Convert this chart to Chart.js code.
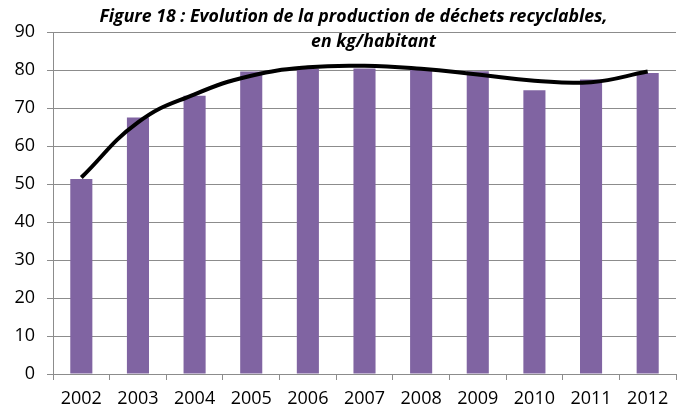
<!DOCTYPE html>
<html>
<head>
<meta charset="utf-8">
<script src="https://cdn.jsdelivr.net/npm/chart.js@4"></script>
<style>
  html, body { margin: 0; padding: 0; background: #fff; }
  #wrap { position: relative; width: 677px; height: 409px; }
  #titre {
    position: absolute; left: 30px; right: 0; top: 3px;
    text-align: center; font-family: "Open Sans", sans-serif;
    font-weight: bold; font-style: italic; font-size: 17.7px; line-height: 25px;
    color: #000; white-space: nowrap;
  }
  #titre span { position: relative; left: 20px; }
</style>
</head>
<body>
<div id="wrap">
  <canvas id="graph" width="677" height="409"></canvas>
  <div id="titre">Figure 18 : Evolution de la production de déchets recyclables,<br><span>en kg/habitant</span></div>
</div>
<script>
// Années et valeurs (kg/habitant)
const annees = ["2002", "2003", "2004", "2005", "2006", "2007", "2008", "2009", "2010", "2011", "2012"];
const dechets = [51.3, 67.5, 73.2, 79.6, 80.3, 80.4, 80, 79.7, 74.7, 77.5, 79.2];
// Courbe de tendance (polynomiale)
const tendance = [51.7, 66.2, 73.6, 78.5, 80.7, 81.1, 80.3, 78.8, 77.2, 76.8, 79.6];

const gris = "#8c8c8c";

new Chart(document.getElementById("graph"), {
  type: "bar",
  data: {
    labels: annees,
    datasets: [
      {
        type: "line",
        data: tendance,
        borderColor: "#000",
        borderWidth: 4,
        pointRadius: 0,
        tension: 0.45,
        fill: false,
        order: 0
      },
      {
        data: dechets,
        backgroundColor: "#8064A2",
        categoryPercentage: 1,
        barPercentage: 0.39,
        order: 1
      }
    ]
  },
  options: {
    responsive: false,
    animation: false,
    layout: { padding: { top: 32, right: 1, left: 0, bottom: 0 } },
    plugins: { legend: { display: false }, tooltip: { enabled: false } },
    scales: {
      x: {
        grid: { drawOnChartArea: false, drawTicks: true, tickLength: 6, color: gris },
        border: { color: gris, width: 1 },
        ticks: { color: "#000", font: { family: "Open Sans", size: 18 }, padding: 8 },
        afterFit: (s) => { s.height = 35; }
      },
      y: {
        min: 0,
        max: 90,
        grid: { color: gris, tickLength: 6, lineWidth: 1 },
        border: { color: gris, width: 1 },
        ticks: { stepSize: 10, color: "#000", font: { family: "Open Sans", size: 18 }, padding: 12 },
        afterFit: (s) => { s.width = 53; }
      }
    }
  }
});
</script>
</body>
</html>
